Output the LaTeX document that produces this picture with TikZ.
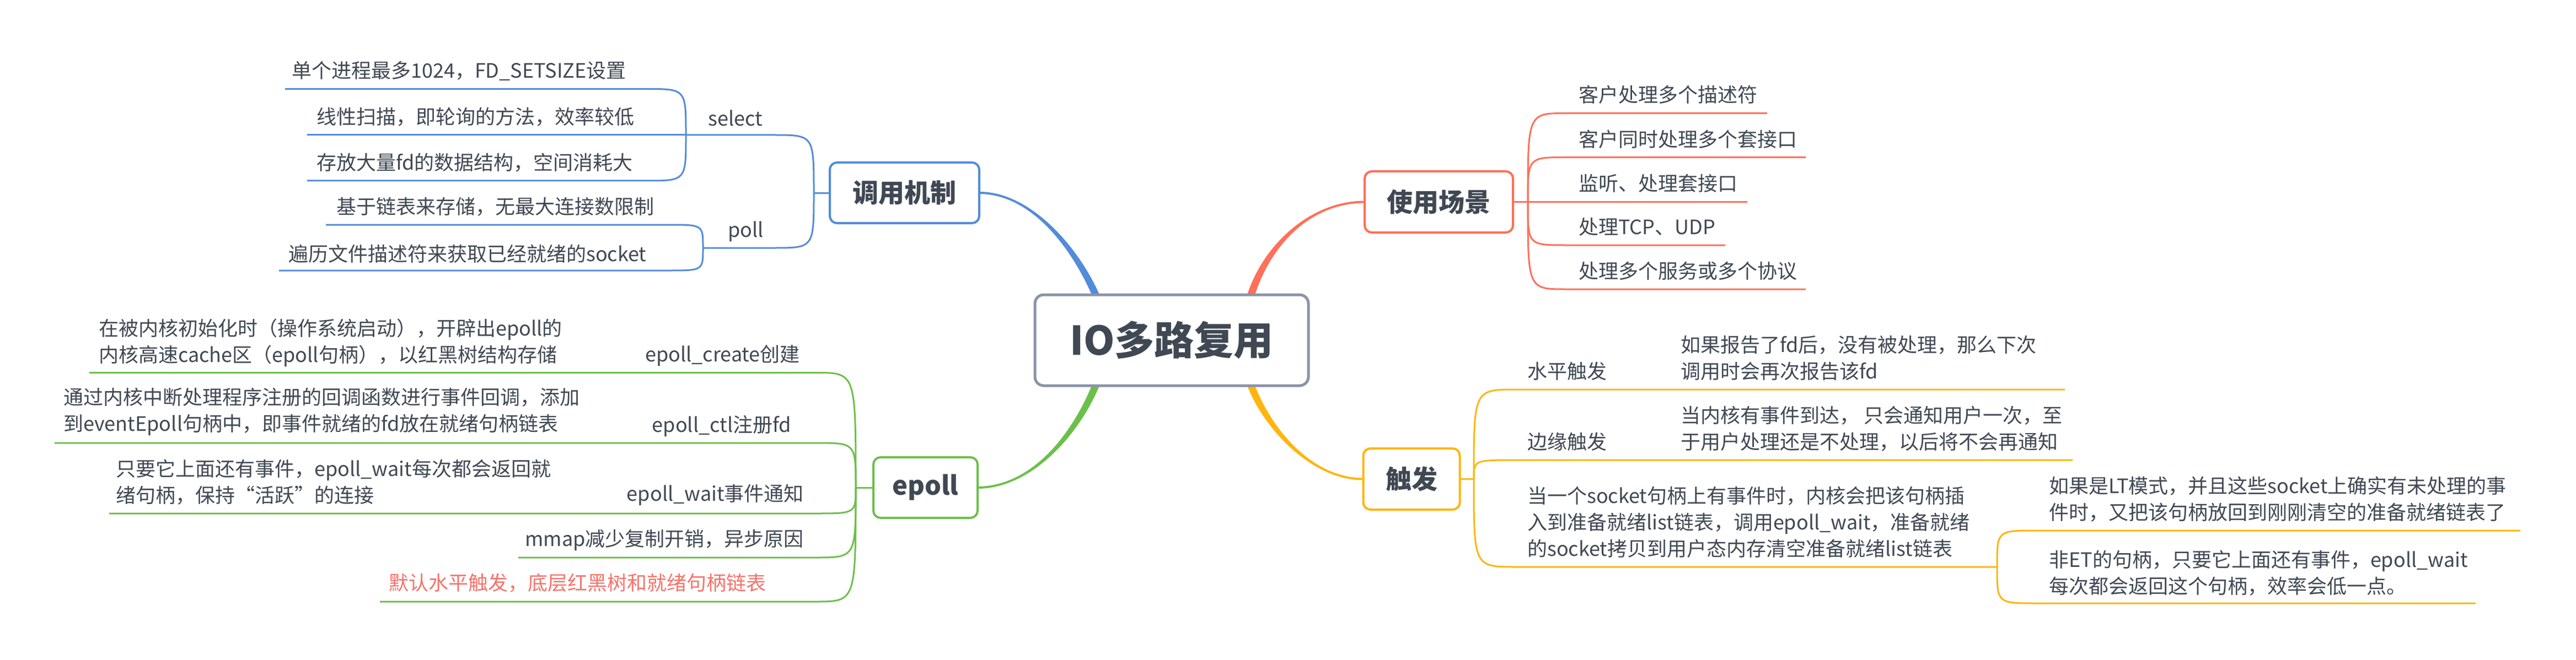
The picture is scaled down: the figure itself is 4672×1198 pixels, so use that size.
\documentclass[tikz,border=0pt]{standalone}
\usepackage{fontspec}
\setmainfont{Noto Sans CJK SC}
\usetikzlibrary{calc}
\definecolor{cblue}{HTML}{528CDA}
\definecolor{cred}{HTML}{FF6F59}
\definecolor{cgreen}{HTML}{6CC04A}
\definecolor{cyellow}{HTML}{FFB50D}
\definecolor{cgrey}{HTML}{8A94A6}
\definecolor{ctext}{HTML}{404853}
\definecolor{cpink}{HTML}{F5736B}
\tikzset{
  leaf/.style={font=\fontsize{36}{48}\selectfont, text=ctext, inner sep=0pt, align=left},
  mainbox/.style={draw=#1, line width=4pt, rounded corners=13pt, fill=white,
    font=\fontsize{47}{56}\selectfont\bfseries, text=ctext, inner sep=0pt},
  rootbox/.style={draw=cgrey, line width=5pt, rounded corners=16pt, fill=white,
    font=\fontsize{72}{80}\selectfont\bfseries, text=ctext, inner sep=0pt},
  twig/.style={draw=#1, line width=3pt},
}
% tapered main branch: colour, side offset, start, control 1, control 2, end
\newcommand\mmbranch[6]{%
  \fill[#1] ($(#3)+(0,-2)$) .. controls ($(#4)+(0,-2)$) and ($(#5)+(#2,0)$) .. ($(#6)+(#2,0)$)
    -- ($(#6)-(#2,0)$) .. controls ($(#5)-(#2,0)$) and ($(#4)+(0,2)$) .. ($(#3)+(0,2)$) -- cycle;}
% curved twig: colour, junction, bend end, far end
\newcommand\mmleaf[4]{%
  \draw[twig=#1] (#2) .. controls (#2 |- #3) .. (#3) -- (#4);}
\begin{document}
\begin{tikzpicture}[x=1pt,y=-1pt]
\useasboundingbox (0,0) rectangle (4672,1198);
\fill[white] (0,0) rectangle (4672,1198);

% ---------- boxes (positions) ----------
\coordinate (rootC) at (2125,617.5);
\coordinate (callC) at (1640.5,350);
\coordinate (useC) at (2609.5,366.5);
\coordinate (epollC) at (1678.5,885);
\coordinate (trigC) at (2560,869.5);

% ---------- main branches ----------
\coordinate (rBlue) at (1987,535);
\coordinate (rRed) at (2269,535);
\coordinate (rGreen) at (1987,700);
\coordinate (rYellow) at (2269,700);
\coordinate (aBlue) at (1776,350);
\coordinate (aRed) at (2475,366.5);
\coordinate (aGreen) at (1773,885);
\coordinate (aYellow) at (2472,869.5);
\coordinate (b1c1) at (1870,350);  \coordinate (b1c2) at (1950,450);
\coordinate (b2c1) at (2380,366.5);\coordinate (b2c2) at (2300,440);
\coordinate (b3c1) at (1870,885);  \coordinate (b3c2) at (1950,790);
\coordinate (b4c1) at (2380,869.5);\coordinate (b4c2) at (2300,780);
\mmbranch{cblue}{7}{aBlue}{b1c1}{b1c2}{rBlue}
\mmbranch{cred}{-7}{aRed}{b2c1}{b2c2}{rRed}
\mmbranch{cgreen}{-7}{aGreen}{b3c1}{b3c2}{rGreen}
\mmbranch{cyellow}{7}{aYellow}{b4c1}{b4c2}{rYellow}

% ---------- 调用机制 (blue) ----------
\coordinate (J1) at (1476,350);
\draw[twig=cblue] (aBlue) -- (1505,350) -- (J1);
\coordinate (sel) at (1403,245); \coordinate (selJ) at (1244,245);
\mmleaf{cblue}{J1}{sel}{selJ}
\coordinate (pol) at (1403,450); \coordinate (polJ) at (1275,450);
\mmleaf{cblue}{J1}{pol}{polJ}
\node[leaf, anchor=west] (selT) at (1284,214) {select};
\node[leaf, anchor=west] (polT) at (1320,420) {poll};
\coordinate (a1) at (1173,161.5); \coordinate (a1e) at (517,161.5);
\coordinate (a2e) at (557,245);
\coordinate (a3) at (1173,328); \coordinate (a3e) at (557,328);
\mmleaf{cblue}{selJ}{a1}{a1e}
\draw[twig=cblue] (selJ) -- (a2e);
\mmleaf{cblue}{selJ}{a3}{a3e}
\coordinate (p1) at (1212,408); \coordinate (p1e) at (591,408);
\coordinate (p2) at (1212,491); \coordinate (p2e) at (506,491);
\mmleaf{cblue}{polJ}{p1}{p1e}
\mmleaf{cblue}{polJ}{p2}{p2e}
\node[leaf, anchor=west] (t1) at (529,129) {单个进程最多1024，FD\_SETSIZE设置};
\node[leaf, anchor=west] (t2) at (574,212) {线性扫描，即轮询的方法，效率较低};
\node[leaf, anchor=west] (t3) at (574,295) {存放大量fd的数据结构，空间消耗大};
\node[leaf, anchor=west] (t4) at (610,375) {基于链表来存储，无最大连接数限制};
\node[leaf, anchor=west] (t5) at (523,461) {遍历文件描述符来获取已经就绪的socket};

% ---------- 使用场景 (red) ----------
\coordinate (J2) at (2771,366.5);
\draw[twig=cred] (2744,366.5) -- (J2);
\coordinate (u1) at (2841,205.5); \coordinate (u1e) at (3205,205.5);
\coordinate (u2) at (2841,285.5); \coordinate (u2e) at (3275,285.5);
\coordinate (u3e) at (3169,366.5);
\coordinate (u4) at (2841,445);   \coordinate (u4e) at (3129,445);
\coordinate (u5) at (2841,525);   \coordinate (u5e) at (3275,525);
\mmleaf{cred}{J2}{u1}{u1e}
\mmleaf{cred}{J2}{u2}{u2e}
\draw[twig=cred] (J2) -- (u3e);
\mmleaf{cred}{J2}{u4}{u4e}
\mmleaf{cred}{J2}{u5}{u5e}
\node[leaf, anchor=west] (ut1) at (2863,172) {客户处理多个描述符};
\node[leaf, anchor=west] (ut2) at (2863,252.5) {客户同时处理多个套接口};
\node[leaf, anchor=west] (ut3) at (2863,332.5) {监听、处理套接口};
\node[leaf, anchor=west] (ut4) at (2863,412) {处理TCP、UDP};
\node[leaf, anchor=west] (ut5) at (2863,492) {处理多个服务或多个协议};

% ---------- epoll (green) ----------
\coordinate (J3) at (1552,885);
\draw[twig=cgreen] (1584,885) -- (J3);
\coordinate (e1) at (1480,676.5); \coordinate (e1e) at (162,676.5);
\coordinate (e2) at (1480,804);   \coordinate (e2e) at (99,804);
\coordinate (e3) at (1480,932);   \coordinate (e3e) at (198,932);
\coordinate (e4) at (1480,1012);  \coordinate (e4e) at (940,1012);
\coordinate (e5) at (1480,1092);  \coordinate (e5e) at (689,1092);
\mmleaf{cgreen}{J3}{e1}{e1e}
\mmleaf{cgreen}{J3}{e2}{e2e}
\mmleaf{cgreen}{J3}{e3}{e3e}
\mmleaf{cgreen}{J3}{e4}{e4e}
\mmleaf{cgreen}{J3}{e5}{e5e}
\node[leaf, anchor=west] (ed1) at (179,622.5) {在被内核初始化时（操作系统启动），开辟出epoll的\\内核高速cache区（epoll句柄），以红黑树结构存储};
\node[leaf, anchor=east] (el1) at (1451,645) {epoll\_create创建};
\node[leaf, anchor=west] (ed2) at (115,747) {通过内核中断处理程序注册的回调函数进行事件回调，添加\\到eventEpoll句柄中，即事件就绪的fd放在就绪句柄链表};
\node[leaf, anchor=east] (el2) at (1435,773) {epoll\_ctl注册fd};
\node[leaf, anchor=west] (ed3) at (210,875.5) {只要它上面还有事件，epoll\_wait每次都会返回就\\绪句柄，保持“活跃”的连接};
\node[leaf, anchor=east] (el3) at (1458,898) {epoll\_wait事件通知};
\node[leaf, anchor=east] (el4) at (1458,980) {mmap减少复制开销，异步原因};
\node[leaf, anchor=west, text=cpink] (el5) at (705,1058) {默认水平触发，底层红黑树和就绪句柄链表};

% ---------- 触发 (yellow) ----------
\coordinate (J4) at (2673,869.5);
\draw[twig=cyellow] (2648,869.5) -- (J4);
\coordinate (g1) at (2750,707);  \coordinate (g1e) at (3745,707);
\coordinate (g2) at (2750,835);  \coordinate (g2e) at (3759,835);
\coordinate (g3) at (2750,1029); \coordinate (J5) at (3622,1029);
\mmleaf{cyellow}{J4}{g1}{g1e}
\mmleaf{cyellow}{J4}{g2}{g2e}
\mmleaf{cyellow}{J4}{g3}{J5}
\coordinate (h1) at (3693,963);  \coordinate (h1e) at (4571,963);
\coordinate (h2) at (3693,1095); \coordinate (h2e) at (4490,1095);
\mmleaf{cyellow}{J5}{h1}{h1e}
\mmleaf{cyellow}{J5}{h2}{h2e}
\node[leaf, anchor=west] (gl1) at (2770,674) {水平触发};
\node[leaf, anchor=west] (gd1) at (3048,650) {如果报告了fd后，没有被处理，那么下次\\调用时会再次报告该fd};
\node[leaf, anchor=west] (gl2) at (2770,802) {边缘触发};
\node[leaf, anchor=west] (gd2) at (3048,778.5) {当内核有事件到达， 只会通知用户一次，至\\于用户处理还是不处理，以后将不会再通知};
\node[leaf, anchor=west] (gd3) at (2770,948) {当一个socket句柄上有事件时，内核会把该句柄插\\入到准备就绪list链表，调用epoll\_wait，准备就绪\\的socket拷贝到用户态内存清空准备就绪list链表};
\node[leaf, anchor=west] (hd1) at (3716,906) {如果是LT模式，并且这些socket上确实有未处理的事\\件时，又把该句柄放回到刚刚清空的准备就绪链表了};
\node[leaf, anchor=west] (hd2) at (3716,1040.5) {非ET的句柄，只要它上面还有事件，epoll\_wait\\每次都会返回这个句柄，效率会低一点。};

% ---------- boxes ----------
\node[rootbox, minimum width=496pt, minimum height=165pt] (root) at (rootC) {IO多路复用};
\node[mainbox=cblue, minimum width=271pt, minimum height=110pt] (call) at (callC) {调用机制};
\node[mainbox=cred, minimum width=269pt, minimum height=111pt] (use) at (useC) {使用场景};
\node[mainbox=cgreen, minimum width=189pt, minimum height=110pt] (epoll) at (epollC) {epoll};
\node[mainbox=cyellow, minimum width=175pt, minimum height=111pt] (trig) at (trigC) {触发};
\end{tikzpicture}
\end{document}
